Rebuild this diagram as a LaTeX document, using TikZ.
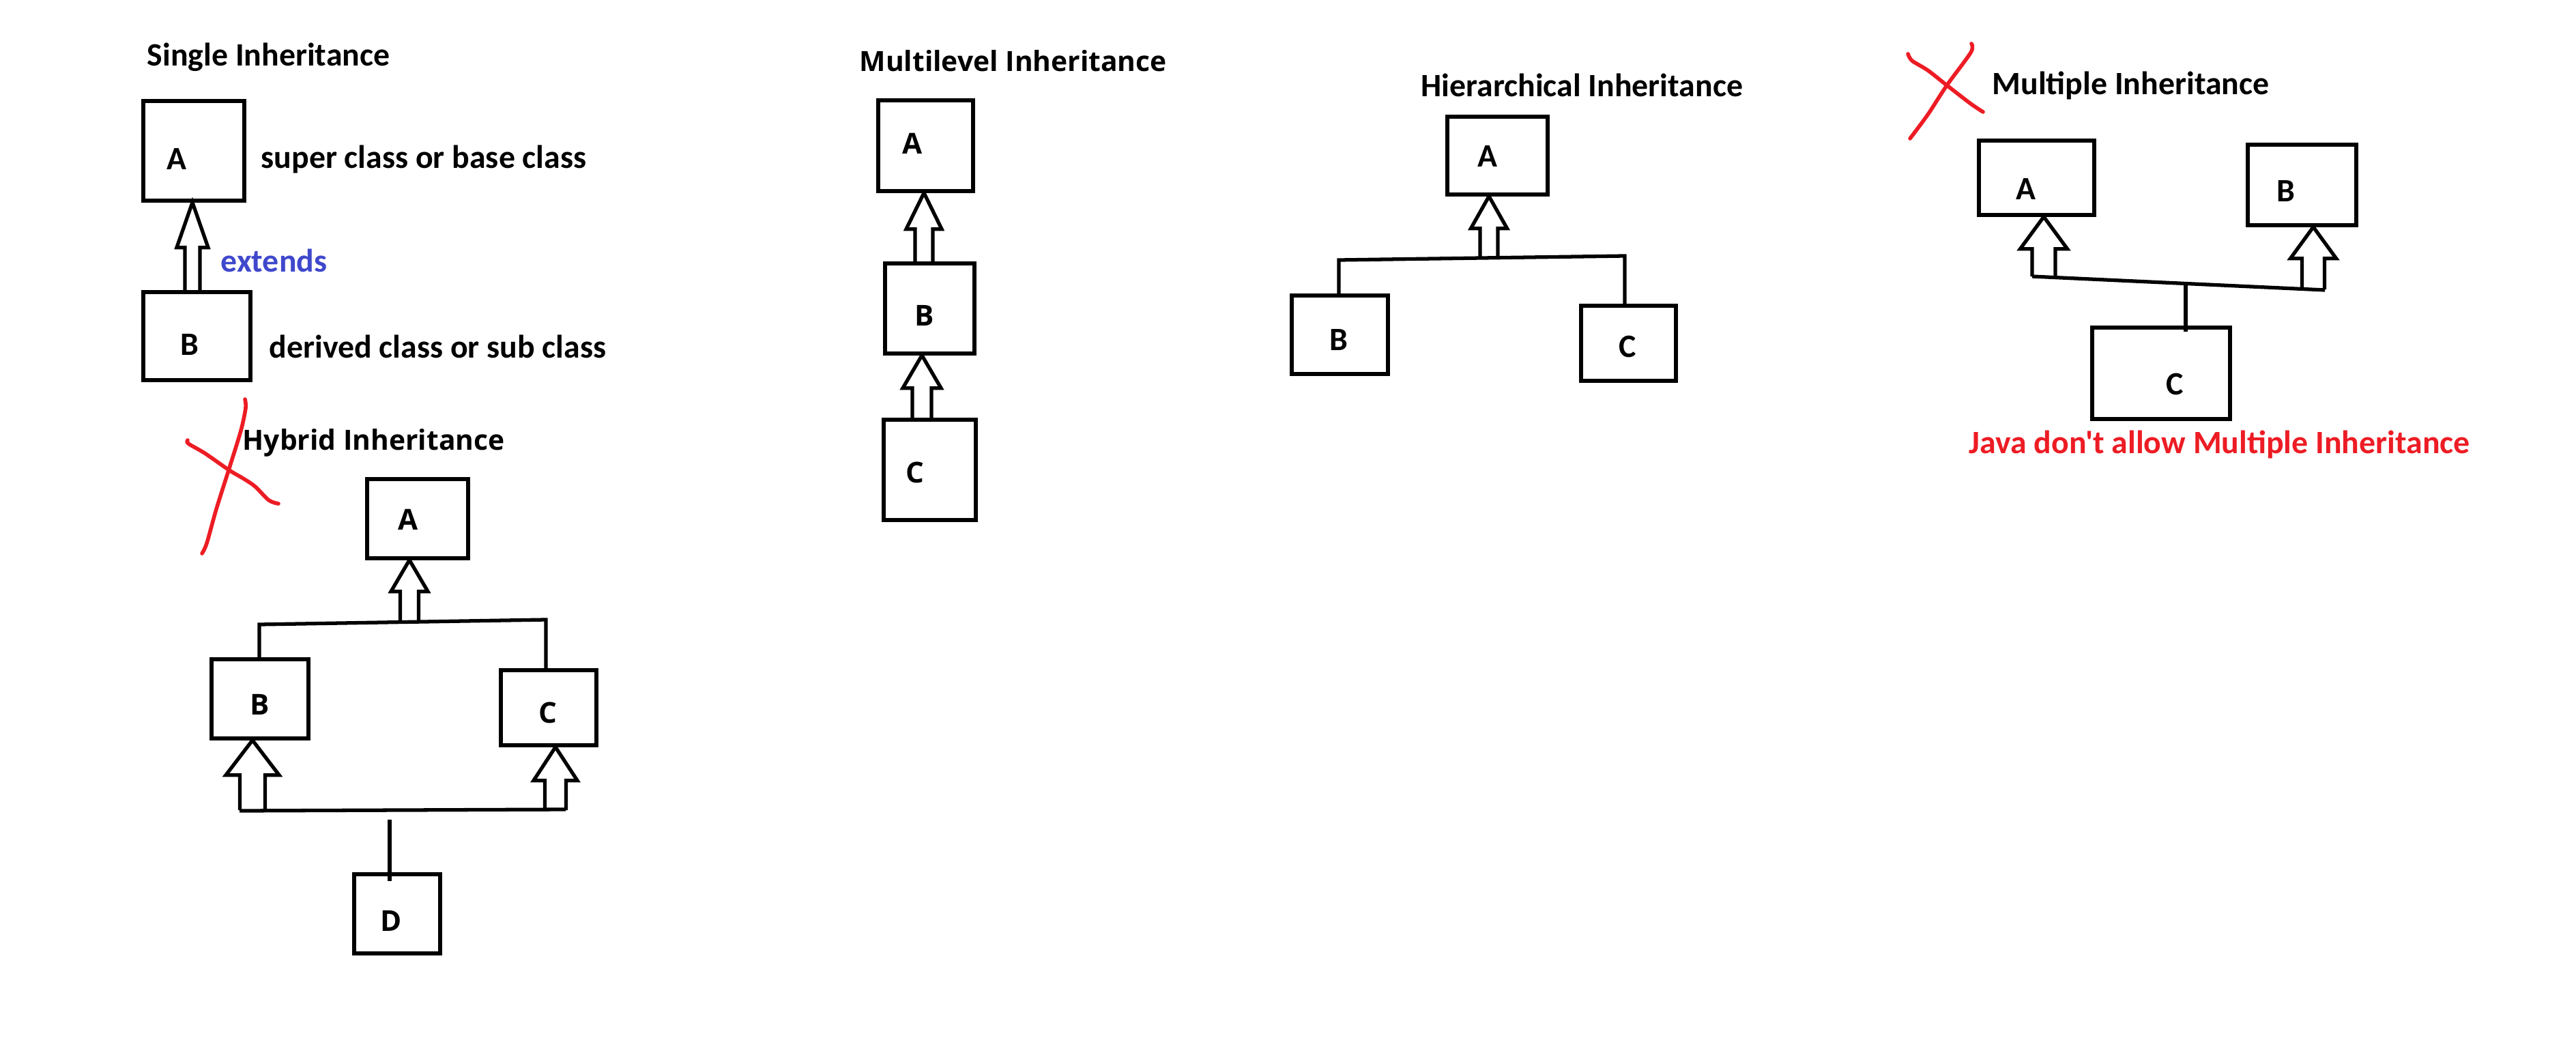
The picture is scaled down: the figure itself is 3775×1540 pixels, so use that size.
\documentclass[tikz,border=0pt]{standalone}
\usepackage{fontspec}
\usetikzlibrary{calc}
\newfontfamily\calibri{Carlito}
\newfontfamily\osans{Open Sans}
\definecolor{pantred}{RGB}{237,28,36}
\definecolor{pantblue}{RGB}{63,72,204}
% hollow block arrow: bottom point, tip point, half shaft, half head, head length
\newcommand{\inh}[5]{%
	\draw[inhline] let \p1=(#1), \p2=(#2) in
		(\x1-#3,\y1) -- (\x1-#3,\y2-#5) -- (\x1-#4,\y2-#5) -- (\x1,\y2)
		-- (\x1+#4,\y2-#5) -- (\x1+#3,\y2-#5) -- (\x1+#3,\y1);}

\begin{document}
\begin{tikzpicture}[x=0.1mm,y=-0.1mm,
		clsbox/.style={draw,line width=1.5pt,inner sep=0pt},
		inhline/.style={line width=1.5pt,line join=miter},
		bus/.style={line width=1.5pt},
		redpen/.style={draw=pantred,line width=1.6pt,line cap=round,line join=round},
		txt/.style={anchor=base west,inner sep=0pt,font=\calibri\bfseries\fontsize{13.6}{16}\selectfont},
		vtxt/.style={anchor=base west,inner sep=0pt,font=\osans\bfseries\fontsize{11.6}{14}\selectfont},
		ltr/.style={anchor=base,inner sep=0pt,font=\calibri\bfseries\fontsize{13.6}{16}\selectfont},
		vltr/.style={anchor=base,inner sep=0pt,font=\osans\bfseries\fontsize{12}{14}\selectfont}]
	\useasboundingbox (0,0) rectangle (3775,1540);

	% single
	\node[txt] (stitle) at (215,96) {Single Inheritance};
	\node[clsbox,minimum width=14.8mm,minimum height=14.6mm] (sA) at (284,221) {};
	\node[clsbox,minimum width=15.7mm,minimum height=12.9mm] (sB) at (288.5,492.5) {};
	\node[ltr] (sAl) at (259,248) {A};
	\node[ltr] (sBl) at (278,520) {B};
	\node[txt] (ssup) at (382,246) {super class or base class};
	\node[txt] (ssub) at (394,524) {derived class or sub class};
	\node[txt,text=pantblue] (sext) at (323,398) {extends};
	\coordinate (sab) at (282,428);
	\inh{sab}{sab |- sA.south}{1.1mm}{2.3mm}{6.6mm}

	% hybrid
	\draw[redpen] plot[smooth] coordinates {(359,585) (360,598) (353,631) (336,686) (317,746) (303,796) (296,811)};
	\draw[redpen] plot[smooth] coordinates {(275,645) (276,650) (300,664) (336,689) (358,702) (374,713) (394,733) (408,738)};
	\node[vtxt] (htitle) at (355,659) {Hybrid Inheritance};
	\node[clsbox,minimum width=14.8mm,minimum height=11.6mm] (hA) at (612,760) {};
	\node[clsbox,minimum width=14.2mm,minimum height=11.6mm] (hB) at (381,1024) {};
	\node[clsbox,minimum width=14mm,minimum height=11mm] (hC) at (804,1037) {};
	\node[clsbox,minimum width=12.6mm,minimum height=11.6mm] (hD) at (582,1339) {};
	\node[vltr] (hAl) at (598,776) {A};
	\node[vltr] (hBl) at (381,1047) {B};
	\node[vltr] (hCl) at (803,1059) {C};
	\node[vltr] (hDl) at (573,1364) {D};
	\coordinate (hab) at (600,911);
	\coordinate (hbb) at (370,1187);
	\coordinate (hcb) at (814,1187);
	\coordinate (hbl) at (380,915);
	\coordinate (hbr) at (800,908);
	\coordinate (hll) at (351,1188);
	\coordinate (hlr) at (829,1186);
	\coordinate (hd) at (571,1201);
	\inh{hab}{hab |- hA.south}{1.35mm}{2.7mm}{4.6mm}
	\inh{hbb}{hbb |- hB.south}{1.85mm}{3.9mm}{5.1mm}
	\inh{hcb}{hcb |- hC.south}{1.55mm}{3.2mm}{4.9mm}
	\draw[bus] (hbl |- hB.north) -- (hbl) -- (hbr) -- (hbr |- hC.north);
	\draw[bus] (hll) -- (hlr);
	\draw[bus] (hd) -- ([yshift=-1.3mm]hd |- hD.north);

	% multilevel
	\node[vtxt] (mtitle) at (1259,104) {Multilevel Inheritance};
	\node[clsbox,minimum width=13.9mm,minimum height=13.3mm] (mA) at (1356.5,213.5) {};
	\node[clsbox,minimum width=13.1mm,minimum height=13.2mm] (mB) at (1362.5,452) {};
	\node[clsbox,minimum width=13.5mm,minimum height=14.7mm] (mC) at (1362.5,688.5) {};
	\node[vltr] (mAl) at (1337,225.5) {A};
	\node[vltr] (mBl) at (1355,477) {B};
	\node[vltr] (mCl) at (1341,707) {C};
	\coordinate (mab) at (1354,386);
	\coordinate (mbb) at (1351,615);
	\inh{mab}{mab |- mA.south}{1.3mm}{2.6mm}{5.3mm}
	\inh{mbb}{mbb |- mB.south}{1.4mm}{2.8mm}{4.8mm}

	% hierarchical
	\node[txt] (rtitle) at (2082,141) {Hierarchical Inheritance};
	\node[clsbox,minimum width=14.7mm,minimum height=11.4mm] (rA) at (2194.5,228) {};
	\node[clsbox,minimum width=14.1mm,minimum height=11.5mm] (rB) at (1963.5,490.5) {};
	\node[clsbox,minimum width=13.9mm,minimum height=11mm] (rC) at (2386.5,503) {};
	\node[ltr] (rAl) at (2180,244) {A};
	\node[ltr] (rBl) at (1962,513) {B};
	\node[ltr] (rCl) at (2385,523) {C};
	\coordinate (rab) at (2182,378);
	\coordinate (rbl) at (1962,381);
	\coordinate (rbr) at (2381,375);
	\inh{rab}{rab |- rA.south}{1.3mm}{2.65mm}{4.7mm}
	\draw[bus] (rbl |- rB.north) -- (rbl) -- (rbr) -- (rbr |- rC.north);

	% multiple
	\draw[redpen] plot[smooth] coordinates {(2889,64) (2888,77) (2853,125) (2825,168) (2799,203)};
	\draw[redpen] plot[smooth] coordinates {(2796,79) (2802,89) (2825,103) (2853,125) (2888,152) (2906,164)};
	\node[txt] (xtitle) at (2919,138) {Multiple Inheritance};
	\node[clsbox,minimum width=16.9mm,minimum height=10.9mm] (xA) at (2984.5,260.5) {};
	\node[clsbox,minimum width=15.9mm,minimum height=11.8mm] (xB) at (3373.5,271) {};
	\node[clsbox,minimum width=20.2mm,minimum height=13.4mm] (xC) at (3167,547) {};
	\node[ltr] (xAl) at (2969,292) {A};
	\node[ltr] (xBl) at (3350,295) {B};
	\node[ltr] (xCl) at (3187,578) {C};
	\coordinate (xab) at (2995,405);
	\coordinate (xbb) at (3390,424);
	\coordinate (xll) at (2978,405);
	\coordinate (xlr) at (3407,425);
	\coordinate (xc) at (3203,413);
	\inh{xab}{xab |- xA.south}{1.7mm}{3.45mm}{4.7mm}
	\inh{xbb}{xbb |- xB.south}{1.65mm}{3.35mm}{4.6mm}
	\draw[bus] (xll) -- (xlr);
	\draw[bus] (xc) -- ([yshift=-0.9mm]xc |- xC.north);
	\node[txt,text=pantred] (xnote) at (2885,664) {Java don't allow Multiple Inheritance};
\end{tikzpicture}
\end{document}
